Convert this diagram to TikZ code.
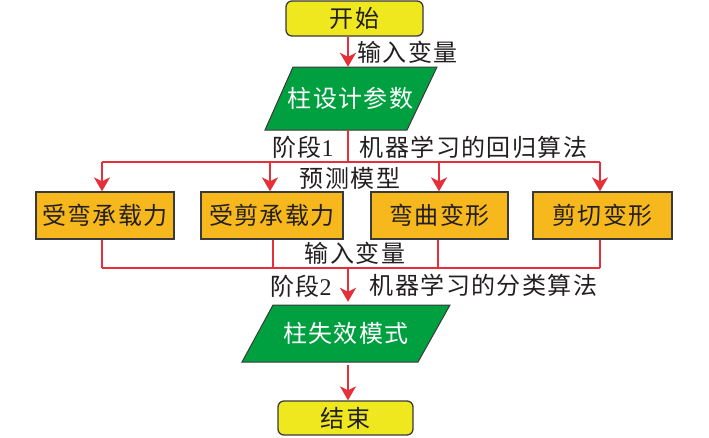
\documentclass[tikz,border=0pt]{standalone}
\usepackage{fontspec}
\setmainfont{Noto Sans CJK SC}[LetterSpace=6]
\newfontfamily\digitfont{Liberation Serif}
\usetikzlibrary{arrows.meta,calc}
\definecolor{cyel}{HTML}{EFE81E}
\definecolor{corg}{HTML}{F7B81E}
\definecolor{cgrn}{HTML}{00A040}
\definecolor{cred}{HTML}{E5303A}
\definecolor{ctxt}{HTML}{231F20}
\definecolor{cbrd}{HTML}{3A3A3A}
\tikzset{
  every node/.style={font=\fontsize{24}{28}\selectfont, text=ctxt, inner sep=0pt},
  termbox/.style={draw=cbrd, line width=1.3pt, fill=cyel, rounded corners=6pt, minimum width=137pt, minimum height=35pt},
  orgbox/.style={draw=cbrd, line width=1.3pt, fill=corg, minimum height=47pt},
  iobox/.style={minimum height=63pt, text=white},
  para/.style={draw=cbrd, line width=1pt, fill=cgrn},
  link/.style={draw=cred, line width=2pt},
  arr/.style={link, -{Stealth[length=14pt,width=16pt,inset=4pt]}},
  lbl/.style={anchor=center},
}
\begin{document}
\begin{tikzpicture}[x=1pt,y=-1pt]
\useasboundingbox (0,0) rectangle (709,437);
% nodes
\node[termbox] (start) at (354.5,18.5) {开始};
\coordinate (spine) at (348,0);
% parallelogram 1
\draw[para] (293,67) -- (437,67) -- (407,130) -- (265,130) -- cycle;
\node[iobox, minimum width=100pt] (p1) at (350.5,98.5) {柱设计参数};
% boxes
\node[orgbox, minimum width=138pt] (b1) at (105,215.5) {受弯承载力};
\node[orgbox, minimum width=142pt] (b2) at (272,215.5) {受剪承载力};
\node[orgbox, minimum width=137pt] (b3) at (439.5,215.5) {弯曲变形};
\node[orgbox, minimum width=139pt] (b4) at (602.5,215.5) {剪切变形};
% parallelogram 2
\draw[para] (273,305) -- (450,305) -- (418,362) -- (242,362) -- cycle;
\node[iobox, minimum width=100pt] (p2) at (346,333.5) {柱失效模式};
\node[termbox, minimum width=135pt, minimum height=34pt] (end) at (345.5,418) {结束};
% junction coordinates
\coordinate (top) at (348,162);
\coordinate (bot) at (348,268);
\coordinate (d1) at (102,162);
\coordinate (d2) at (270,162);
\coordinate (d3) at (439,162);
\coordinate (d4) at (600,162);
\coordinate (u1) at (102,268);
\coordinate (u2) at (273,268);
\coordinate (u3) at (438,268);
\coordinate (u4) at (600,268);
% connectors
\draw[arr] (start.south -| spine) -- (p1.north -| spine);
\draw[link] (p1.south -| spine) -- (top);
\draw[link] (d1) -- (d4);
\draw[arr] (d1) -- (d1 |- b1.north);
\draw[arr] (d2) -- (d2 |- b2.north);
\draw[arr] (d3) -- (d3 |- b3.north);
\draw[arr] (d4) -- (d4 |- b4.north);
\draw[link] (b1.south -| u1) -- (u1);
\draw[link] (b2.south -| u2) -- (u2);
\draw[link] (b3.south -| u3) -- (u3);
\draw[link] (b4.south -| u4) -- (u4);
\draw[link] (u1) -- (u4);
\draw[arr] (bot) -- (p2.north -| bot);
\draw[arr] (p2.south -| spine) -- (end.north -| spine);
% labels
\node[lbl] (l1) at (407.5,52) {输入变量};
\node[lbl] (l2) at (303,147) {阶段{\digitfont 1}};
\node[lbl] (l3) at (473.5,147) {机器学习的回归算法};
\node[lbl] (l4) at (350,178) {预测模型};
\node[lbl] (l5) at (355,253) {输入变量};
\node[lbl] (l6) at (301,286) {阶段{\digitfont 2}};
\node[lbl] (l7) at (483.5,285) {机器学习的分类算法};
\end{tikzpicture}
\end{document}
